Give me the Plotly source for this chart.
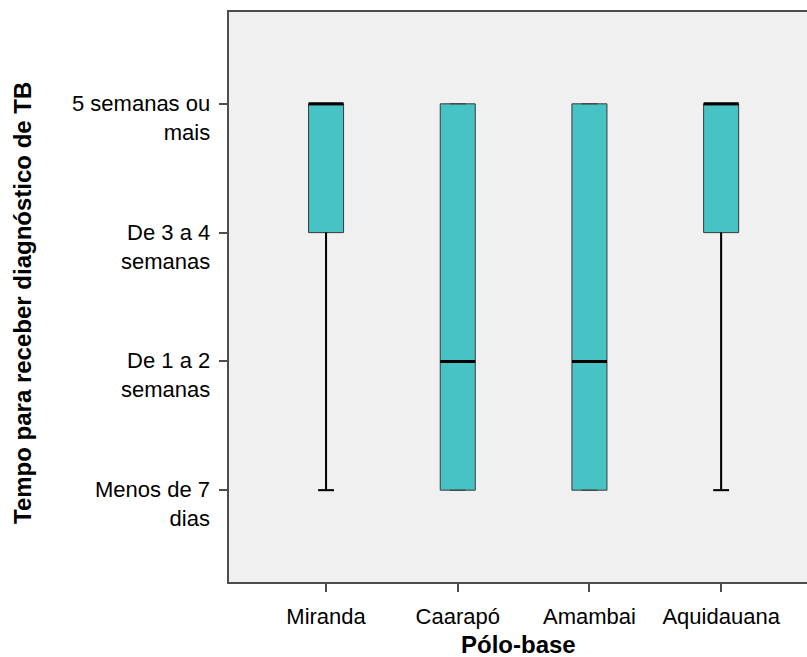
import plotly.graph_objects as go

# Pólo-base categories and the ordinal response scale (1 = shortest wait)
polos = ["Miranda", "Caarapó", "Amambai", "Aquidauana"]
tick_values = [1, 2, 3, 4]
tick_labels = ["Menos de 7<br>dias", "De 1 a 2<br>semanas", "De 3 a 4<br>semanas", "5 semanas ou<br>mais"]

# Five-number summaries per pólo-base
minimo = [1, 1, 1, 1]
q1 = [3, 1, 1, 3]
mediana = [4, 2, 2, 4]
q3 = [4, 4, 4, 4]
maximo = [4, 4, 4, 4]

xpos = list(range(len(polos)))
box_w = 0.266
cap_w = 0.12

FILL = "#47c2c5"
EDGE = "#3a3a3a"
AXIS = "#4d4d4d"
FONT = "Liberation Sans, Arial, sans-serif"
TICK_SIZE = 22
TITLE_SIZE = 24

W, H = 807, 657
ML, MR, MT, MB = 229, 0, 12, 75
plot_w = W - ML - MR
plot_h = H - MT - MB

fig = go.Figure()

fig.add_trace(go.Box(
    x=xpos, q1=q1, median=mediana, q3=q3,
    lowerfence=minimo, upperfence=maximo,
    width=box_w, whiskerwidth=cap_w / box_w,
    fillcolor=FILL, line=dict(color=EDGE, width=1),
    boxpoints=False, hoverinfo="skip", showlegend=False,
))

# Whiskers and caps, drawn heavier on top of the box trace
wx, wy = [], []
for x, lo, a, b, hi in zip(xpos, minimo, q1, q3, maximo):
    if lo < a:
        wx += [x, x, None, x - cap_w / 2, x + cap_w / 2, None]
        wy += [lo, a, None, lo, lo, None]
    if hi > b:
        wx += [x, x, None, x - cap_w / 2, x + cap_w / 2, None]
        wy += [b, hi, None, hi, hi, None]
fig.add_trace(go.Scatter(x=wx, y=wy, mode="lines", line=dict(color="black", width=2),
                         hoverinfo="skip", showlegend=False))

# Median bars
mx, my = [], []
for x, m in zip(xpos, mediana):
    mx += [x - box_w / 2, x + box_w / 2, None]
    my += [m, m, None]
fig.add_trace(go.Scatter(x=mx, y=my, mode="lines", line=dict(color="black", width=3),
                         hoverinfo="skip", showlegend=False))

# Category labels on the y axis: first line level with the tick, second line below
for v, lab in zip(tick_values, tick_labels):
    fig.add_annotation(
        x=0, xref="paper", y=v, yref="y", xanchor="right", yanchor="top",
        xshift=-17, yshift=TICK_SIZE * 0.68, align="right", showarrow=False,
        text=lab, font=dict(size=TICK_SIZE, family=FONT, color="black"),
    )

# Vertical axis title, centred at x = 22 px from the left edge
fig.add_annotation(
    x=(22 - ML) / plot_w, xref="paper", y=(H - MB - 303) / plot_h, yref="paper",
    xanchor="center", yanchor="middle", showarrow=False, textangle=-90,
    text="<b>Tempo para receber diagnóstico de TB</b>",
    font=dict(size=TITLE_SIZE, family=FONT, color="black"),
)

# Horizontal axis title, centred under the plot
fig.add_annotation(
    x=(518 - ML) / plot_w, xref="paper", y=(H - MB - 645) / plot_h, yref="paper",
    xanchor="center", yanchor="middle", showarrow=False, borderpad=0,
    text="<b>Pólo-base</b>",
    font=dict(size=TITLE_SIZE, family=FONT, color="black"),
)

fig.update_layout(
    width=W, height=H,
    margin=dict(l=ML, r=MR, t=MT, b=MB, autoexpand=False),
    paper_bgcolor="white", plot_bgcolor="#f0f0f0",
    font=dict(family=FONT, size=TICK_SIZE, color="black"),
    xaxis=dict(
        range=[-0.737, 3.652], tickvals=xpos, ticktext=polos,
        showline=True, linecolor=AXIS, linewidth=2, mirror=True,
        ticks="outside", ticklen=8, tickcolor=AXIS, tickwidth=2,
        ticklabelstandoff=6, automargin=False,
        showgrid=False, zeroline=False,
    ),
    yaxis=dict(
        range=[0.287, 4.713], tickvals=tick_values, showticklabels=False,
        showline=True, linecolor=AXIS, linewidth=2, automargin=False,
        ticks="outside", ticklen=8, tickcolor=AXIS, tickwidth=2,
        showgrid=False, zeroline=False,
    ),
)

fig.write_html("out.html")
